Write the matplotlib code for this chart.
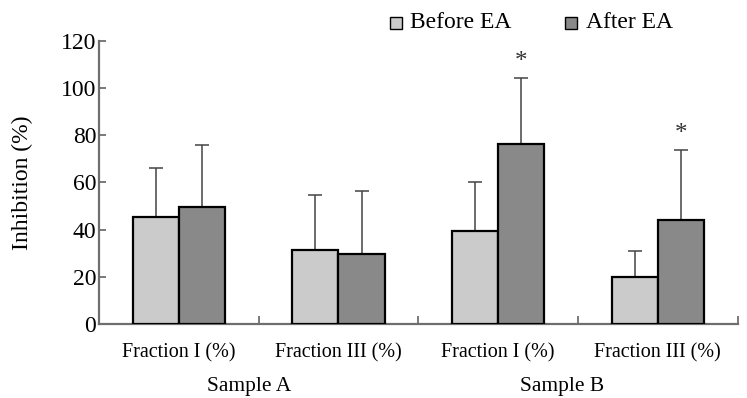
import numpy as np
import matplotlib
matplotlib.use('Agg')
import matplotlib.pyplot as plt
from matplotlib.patches import Rectangle

plt.rcParams['font.family'] = ['Liberation Serif', 'DejaVu Serif']

# Data
categories = ['Fraction I (%)', 'Fraction III (%)', 'Fraction I (%)', 'Fraction III (%)']
groups = ['Sample A', 'Sample B']
before = [45.3, 31.4, 39.5, 20.0]
before_err = [21.0, 23.5, 20.5, 11.0]
after = [49.5, 29.6, 76.2, 44.0]
after_err = [26.3, 27.0, 28.3, 29.8]
signif = [False, False, True, True]

c_before = '#cbcbcb'
c_after = '#898989'
axis_col = '#6e6e6e'

fig = plt.figure(figsize=(7.47, 3.98), dpi=100)
ax = fig.add_axes([0.1325, 0.186, 0.855, 0.711])

x = np.arange(len(categories))
w = 0.29

ax.bar(x - w/2, before, w, color=c_before, edgecolor='black', linewidth=1.6, zorder=3)
ax.bar(x + w/2, after, w, color=c_after, edgecolor='black', linewidth=1.6, zorder=3)

# upward error bars only
ax.errorbar(x - w/2, before, yerr=[np.zeros(4), before_err], fmt='none',
            ecolor='#444444', elinewidth=1.1, capsize=5, capthick=1.1, zorder=2)
ax.errorbar(x + w/2, after, yerr=[np.zeros(4), after_err], fmt='none',
            ecolor='#444444', elinewidth=1.1, capsize=5, capthick=1.1, zorder=2)

for i in range(len(categories)):
    if signif[i]:
        ax.text(x[i] + w/2, after[i] + after_err[i] + 2.0, '*', ha='center', va='bottom',
                fontsize=18, color='#333333')

ax.set_xlim(-0.5, 3.5)
ax.set_ylim(0, 120)
ax.set_yticks(np.arange(0, 121, 20))
ax.set_xticks(x)
ax.set_xticklabels(categories)
ax.set_xticks(np.arange(-0.5, 3.6, 1.0), minor=True)
ax.tick_params(axis='x', which='major', length=0, labelsize=14.5, pad=14)
ax.tick_params(axis='x', which='minor', direction='in', length=6, color=axis_col, width=1.3)
ax.tick_params(axis='y', direction='in', length=5, color=axis_col, width=1.3,
               labelsize=17, pad=2)

for s in ['top', 'right']:
    ax.spines[s].set_visible(False)
for s in ['left', 'bottom']:
    ax.spines[s].set_color(axis_col)
    ax.spines[s].set_linewidth(1.6)

ax.set_ylabel('Inhibition (%)', fontsize=17, labelpad=20)

# group labels
for gx, g in zip([0.44, 2.4], groups):
    ax.text(gx, -0.22, g, transform=ax.get_xaxis_transform(), ha='center', va='center',
            fontsize=15.5)

# legend at top
lx = [0.522, 0.757]
labels = ['Before EA', 'After EA']
cols = [c_before, c_after]
for xx, lab, cc in zip(lx, labels, cols):
    fig.patches.append(Rectangle((xx, 0.928), 0.016, 0.03, transform=fig.transFigure,
                                 facecolor=cc, edgecolor='black', linewidth=1.0))
    fig.text(xx + 0.027, 0.943, lab, ha='left', va='center', fontsize=17)

fig.savefig('out.png', dpi=100)
